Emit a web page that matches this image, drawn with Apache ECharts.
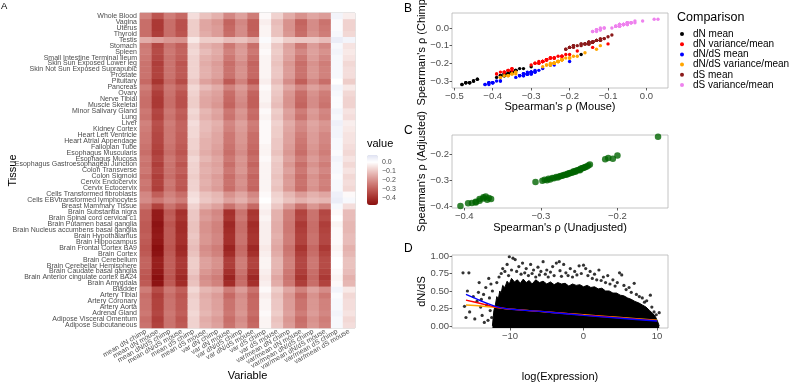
<!DOCTYPE html>
<html><head><meta charset="utf-8">
<script src="https://cdn.jsdelivr.net/npm/echarts@6/dist/echarts.min.js"></script>
<style>html,body{margin:0;padding:0;background:#fff}#c{width:792px;height:384px}</style>
</head><body><div id="c"></div>
<script>
// ---------- Panel A data (tissues listed bottom -> top) ----------
const tissues = ["Adipose Subcutaneous","Adipose Visceral Omentum","Adrenal Gland","Artery Aorta","Artery Coronary","Artery Tibial","Bladder","Brain Amygdala","Brain Anterior cingulate cortex BA24","Brain Caudate basal ganglia","Brain Cerebellar Hemisphere","Brain Cerebellum","Brain Cortex","Brain Frontal Cortex BA9","Brain Hippocampus","Brain Hypothalamus","Brain Nucleus accumbens basal ganglia","Brain Putamen basal ganglia","Brain Spinal cord cervical c1","Brain Substantia nigra","Breast Mammary Tissue","Cells EBVtransformed lymphocytes","Cells Transformed fibroblasts","Cervix Ectocervix","Cervix Endocervix","Colon Sigmoid","Colon Transverse","Esophagus Gastroesophageal Junction","Esophagus Mucosa","Esophagus Muscularis","Fallopian Tube","Heart Atrial Appendage","Heart Left Ventricle","Kidney Cortex","Liver","Lung","Minor Salivary Gland","Muscle Skeletal","Nerve Tibial","Ovary","Pancreas","Pituitary","Prostate","Skin Not Sun Exposed Suprapubic","Skin Sun Exposed Lower leg","Small Intestine Terminal Ileum","Spleen","Stomach","Testis","Thyroid","Uterus","Vagina","Whole Blood"];
const variables = ["mean dN chimp","mean dN mouse","mean dN/dS chimp","mean dN/dS mouse","mean dS chimp","mean dS mouse","var dN chimp","var dN mouse","var dN/dS chimp","var dN/dS mouse","var dS chimp","var dS mouse","var/mean dN chimp","var/mean dN mouse","var/mean dN/dS chimp","var/mean dN/dS mouse","var/mean dS chimp","var/mean dS mouse"];

const meanDNChimp = [-0.26,-0.27,-0.25,-0.26,-0.26,-0.27,-0.24,-0.31,-0.32,-0.31,-0.29,-0.29,-0.31,-0.32,-0.31,-0.30,-0.31,-0.31,-0.30,-0.30,-0.26,-0.21,-0.22,-0.26,-0.25,-0.27,-0.25,-0.26,-0.25,-0.27,-0.26,-0.25,-0.25,-0.24,-0.23,-0.26,-0.25,-0.27,-0.27,-0.26,-0.24,-0.28,-0.26,-0.26,-0.26,-0.25,-0.24,-0.25,-0.15,-0.27,-0.27,-0.27,-0.23];
const meanDNMouse = [-0.36,-0.37,-0.35,-0.36,-0.36,-0.37,-0.34,-0.47,-0.48,-0.46,-0.44,-0.44,-0.47,-0.48,-0.46,-0.45,-0.46,-0.47,-0.45,-0.45,-0.36,-0.25,-0.30,-0.37,-0.36,-0.37,-0.35,-0.37,-0.35,-0.37,-0.36,-0.35,-0.35,-0.34,-0.33,-0.36,-0.35,-0.38,-0.38,-0.37,-0.34,-0.39,-0.36,-0.36,-0.37,-0.35,-0.34,-0.35,-0.17,-0.37,-0.38,-0.38,-0.32];
const meanDNdSChimp = [-0.26,-0.26,-0.25,-0.26,-0.26,-0.27,-0.25,-0.31,-0.32,-0.31,-0.30,-0.30,-0.31,-0.32,-0.31,-0.31,-0.31,-0.32,-0.30,-0.31,-0.26,-0.21,-0.23,-0.26,-0.25,-0.27,-0.26,-0.26,-0.25,-0.27,-0.26,-0.25,-0.25,-0.25,-0.24,-0.26,-0.25,-0.27,-0.27,-0.26,-0.25,-0.28,-0.26,-0.26,-0.26,-0.26,-0.25,-0.26,-0.19,-0.27,-0.27,-0.27,-0.24];
const meanDNdSMouse = [-0.31,-0.32,-0.30,-0.31,-0.31,-0.32,-0.30,-0.41,-0.42,-0.40,-0.38,-0.38,-0.41,-0.42,-0.40,-0.40,-0.41,-0.41,-0.39,-0.40,-0.31,-0.24,-0.27,-0.32,-0.31,-0.32,-0.30,-0.32,-0.30,-0.32,-0.31,-0.30,-0.30,-0.29,-0.29,-0.31,-0.30,-0.33,-0.33,-0.32,-0.29,-0.34,-0.31,-0.31,-0.32,-0.30,-0.29,-0.30,-0.20,-0.32,-0.33,-0.33,-0.28];
const meanDSChimp = [-0.08,-0.08,-0.07,-0.08,-0.08,-0.09,-0.07,-0.11,-0.12,-0.10,-0.09,-0.09,-0.11,-0.12,-0.11,-0.10,-0.11,-0.11,-0.10,-0.10,-0.08,-0.05,-0.06,-0.08,-0.08,-0.09,-0.08,-0.08,-0.07,-0.09,-0.08,-0.08,-0.07,-0.07,-0.06,-0.08,-0.07,-0.09,-0.09,-0.08,-0.07,-0.10,-0.08,-0.08,-0.08,-0.08,-0.07,-0.08,-0.04,-0.09,-0.09,-0.09,-0.06];
const meanDSMouse = [-0.14,-0.15,-0.13,-0.14,-0.14,-0.15,-0.13,-0.20,-0.21,-0.19,-0.17,-0.17,-0.20,-0.21,-0.19,-0.19,-0.20,-0.20,-0.18,-0.19,-0.14,-0.10,-0.11,-0.15,-0.14,-0.15,-0.14,-0.15,-0.13,-0.15,-0.14,-0.14,-0.13,-0.12,-0.12,-0.14,-0.13,-0.16,-0.16,-0.15,-0.12,-0.17,-0.14,-0.14,-0.15,-0.14,-0.12,-0.14,-0.09,-0.15,-0.16,-0.16,-0.11];
const varDNChimp = [-0.17,-0.18,-0.16,-0.17,-0.17,-0.18,-0.15,-0.23,-0.24,-0.22,-0.20,-0.20,-0.23,-0.24,-0.22,-0.22,-0.23,-0.23,-0.21,-0.22,-0.17,-0.12,-0.13,-0.18,-0.17,-0.18,-0.16,-0.17,-0.16,-0.18,-0.17,-0.16,-0.16,-0.15,-0.14,-0.17,-0.16,-0.19,-0.18,-0.17,-0.15,-0.20,-0.17,-0.17,-0.18,-0.16,-0.15,-0.16,-0.09,-0.18,-0.18,-0.19,-0.14];
const varDNMouse = [-0.26,-0.27,-0.25,-0.26,-0.26,-0.28,-0.24,-0.41,-0.43,-0.40,-0.37,-0.37,-0.41,-0.43,-0.40,-0.40,-0.41,-0.42,-0.39,-0.40,-0.26,-0.17,-0.20,-0.27,-0.26,-0.27,-0.25,-0.27,-0.25,-0.27,-0.26,-0.25,-0.25,-0.23,-0.22,-0.26,-0.25,-0.29,-0.28,-0.27,-0.23,-0.31,-0.26,-0.26,-0.27,-0.25,-0.23,-0.25,-0.12,-0.27,-0.28,-0.29,-0.22];
const varDNdSChimp = [-0.20,-0.21,-0.19,-0.20,-0.20,-0.21,-0.18,-0.27,-0.28,-0.26,-0.24,-0.24,-0.27,-0.28,-0.26,-0.26,-0.27,-0.27,-0.25,-0.26,-0.20,-0.14,-0.16,-0.21,-0.20,-0.21,-0.19,-0.20,-0.19,-0.21,-0.20,-0.19,-0.19,-0.18,-0.17,-0.20,-0.19,-0.22,-0.21,-0.20,-0.18,-0.23,-0.20,-0.20,-0.21,-0.19,-0.18,-0.19,-0.11,-0.21,-0.21,-0.22,-0.17];
const varDNdSMouse = [-0.28,-0.29,-0.27,-0.28,-0.28,-0.29,-0.26,-0.40,-0.42,-0.39,-0.36,-0.36,-0.40,-0.42,-0.39,-0.39,-0.40,-0.41,-0.38,-0.39,-0.28,-0.19,-0.22,-0.29,-0.28,-0.29,-0.27,-0.29,-0.27,-0.29,-0.28,-0.27,-0.27,-0.25,-0.24,-0.28,-0.27,-0.30,-0.30,-0.29,-0.25,-0.32,-0.28,-0.28,-0.29,-0.27,-0.25,-0.27,-0.14,-0.29,-0.30,-0.30,-0.24];
const varDSChimp = [-0.02,-0.02,-0.01,-0.02,-0.02,-0.03,-0.01,-0.03,-0.04,-0.03,-0.02,-0.02,-0.03,-0.04,-0.03,-0.03,-0.03,-0.03,-0.02,-0.03,-0.02,0.00,-0.01,-0.02,-0.02,-0.02,-0.02,-0.02,-0.01,-0.02,-0.02,-0.01,-0.01,-0.01,-0.01,-0.02,-0.01,-0.03,-0.02,-0.02,-0.01,-0.03,-0.02,-0.02,-0.02,-0.02,-0.01,-0.02,0.01,-0.02,-0.02,-0.03,-0.01];
const varDSMouse = [-0.10,-0.11,-0.09,-0.10,-0.10,-0.11,-0.09,-0.15,-0.16,-0.14,-0.13,-0.13,-0.15,-0.16,-0.15,-0.14,-0.15,-0.15,-0.14,-0.14,-0.10,-0.07,-0.08,-0.11,-0.10,-0.11,-0.10,-0.10,-0.09,-0.11,-0.10,-0.10,-0.09,-0.09,-0.08,-0.10,-0.09,-0.12,-0.11,-0.10,-0.09,-0.12,-0.10,-0.10,-0.11,-0.10,-0.09,-0.10,-0.05,-0.11,-0.11,-0.12,-0.08];
const vmDNChimp = [-0.18,-0.19,-0.17,-0.18,-0.18,-0.19,-0.16,-0.25,-0.26,-0.25,-0.23,-0.23,-0.25,-0.26,-0.24,-0.24,-0.25,-0.25,-0.24,-0.24,-0.18,-0.11,-0.13,-0.19,-0.18,-0.19,-0.17,-0.19,-0.17,-0.19,-0.18,-0.17,-0.17,-0.16,-0.15,-0.18,-0.17,-0.20,-0.20,-0.19,-0.16,-0.21,-0.18,-0.18,-0.19,-0.17,-0.16,-0.17,-0.09,-0.19,-0.20,-0.20,-0.15];
const vmDNMouse = [-0.26,-0.27,-0.24,-0.26,-0.26,-0.28,-0.23,-0.37,-0.39,-0.37,-0.35,-0.35,-0.37,-0.39,-0.36,-0.36,-0.37,-0.38,-0.35,-0.36,-0.26,-0.14,-0.18,-0.27,-0.26,-0.27,-0.25,-0.27,-0.24,-0.27,-0.26,-0.25,-0.24,-0.22,-0.21,-0.26,-0.24,-0.29,-0.28,-0.27,-0.22,-0.30,-0.26,-0.26,-0.27,-0.25,-0.22,-0.25,-0.10,-0.27,-0.28,-0.29,-0.20];
const vmDNdSChimp = [-0.19,-0.20,-0.18,-0.19,-0.19,-0.20,-0.17,-0.27,-0.28,-0.27,-0.25,-0.25,-0.27,-0.28,-0.26,-0.26,-0.27,-0.27,-0.26,-0.26,-0.19,-0.12,-0.14,-0.20,-0.19,-0.20,-0.18,-0.20,-0.18,-0.20,-0.19,-0.18,-0.18,-0.17,-0.16,-0.19,-0.18,-0.21,-0.21,-0.20,-0.17,-0.22,-0.19,-0.19,-0.20,-0.18,-0.17,-0.18,-0.10,-0.20,-0.21,-0.21,-0.16];
const vmDNdSMouse = [-0.23,-0.24,-0.22,-0.23,-0.23,-0.25,-0.21,-0.36,-0.38,-0.36,-0.34,-0.34,-0.36,-0.38,-0.35,-0.35,-0.36,-0.37,-0.34,-0.35,-0.23,-0.13,-0.16,-0.24,-0.23,-0.24,-0.22,-0.24,-0.22,-0.24,-0.23,-0.22,-0.22,-0.20,-0.19,-0.23,-0.22,-0.26,-0.25,-0.24,-0.20,-0.27,-0.23,-0.23,-0.24,-0.22,-0.20,-0.22,-0.12,-0.24,-0.25,-0.26,-0.18];
const vmDSChimp = [0.02,0.02,0.03,0.02,0.02,0.01,0.03,-0.01,-0.02,-0.01,0.00,0.00,-0.01,-0.02,-0.01,-0.01,-0.01,-0.02,0.00,-0.01,0.02,0.05,0.04,0.02,0.02,0.01,0.02,0.02,0.03,0.01,0.02,0.02,0.03,0.03,0.04,0.02,0.03,0.01,0.01,0.02,0.03,0.00,0.02,0.02,0.02,0.02,0.03,0.02,0.05,0.02,0.01,0.01,0.03];
const vmDSMouse = [-0.06,-0.07,-0.05,-0.06,-0.06,-0.07,-0.04,-0.13,-0.14,-0.12,-0.11,-0.11,-0.13,-0.14,-0.12,-0.12,-0.13,-0.13,-0.12,-0.12,-0.06,0.02,-0.01,-0.07,-0.06,-0.07,-0.05,-0.07,-0.05,-0.07,-0.06,-0.05,-0.05,-0.04,-0.03,-0.06,-0.05,-0.08,-0.08,-0.07,-0.04,-0.09,-0.06,-0.06,-0.07,-0.05,-0.04,-0.05,0.03,-0.07,-0.08,-0.08,-0.03];
const columns = [meanDNChimp,meanDNMouse,meanDNdSChimp,meanDNdSMouse,meanDSChimp,meanDSMouse,varDNChimp,varDNMouse,varDNdSChimp,varDNdSMouse,varDSChimp,varDSMouse,vmDNChimp,vmDNMouse,vmDNdSChimp,vmDNdSMouse,vmDSChimp,vmDSMouse];
const colorbarTicks = [-0.4,-0.3,-0.2,-0.1,0.0];

// ---------- Panel B: comparisons (mouse column, chimp column) ----------
const comparisons = [
  {name:'dN mean', x: meanDNMouse, y: meanDNChimp, color:'#000000'},
  {name:'dN variance/mean', x: vmDNMouse, y: vmDNChimp, color:'#ff0000'},
  {name:'dN/dS mean', x: meanDNdSMouse, y: meanDNdSChimp, color:'#0000ff'},
  {name:'dN/dS variance/mean', x: vmDNdSMouse, y: vmDNdSChimp, color:'#ffa500'},
  {name:'dS mean', x: meanDSMouse, y: meanDSChimp, color:'#8b1a1a'},
  {name:'dS variance/mean', x: vmDSMouse, y: vmDSChimp, color:'#ee82ee'}
];
const bTicksX = [-0.5,-0.4,-0.3,-0.2,-0.1,0.0];
const bTicksY = [-0.3,-0.2,-0.1,0.0];

// ---------- Panel C ----------
const cUnadjusted = [-0.405,-0.395,-0.39,-0.385,-0.385,-0.38,-0.38,-0.375,-0.375,-0.372,-0.37,-0.368,-0.365,
 -0.307,-0.298,-0.295,-0.292,-0.29,-0.288,-0.285,-0.283,-0.28,-0.278,-0.276,-0.274,-0.272,-0.27,-0.268,-0.266,-0.265,-0.263,-0.262,-0.26,-0.258,-0.257,-0.255,-0.254,-0.252,-0.25,-0.249,-0.248,-0.246,-0.245,-0.243,-0.242,-0.24,-0.238,-0.236,
 -0.216,-0.212,-0.206,-0.2,-0.147];
const cAdjusted = [-0.398,-0.388,-0.387,-0.385,-0.382,-0.378,-0.372,-0.37,-0.365,-0.362,-0.375,-0.368,-0.372,
 -0.307,-0.302,-0.298,-0.3,-0.295,-0.297,-0.292,-0.293,-0.288,-0.29,-0.286,-0.284,-0.283,-0.28,-0.279,-0.278,-0.276,-0.275,-0.273,-0.272,-0.27,-0.266,-0.268,-0.264,-0.262,-0.26,-0.262,-0.257,-0.255,-0.254,-0.252,-0.25,-0.248,-0.244,-0.24,
 -0.22,-0.216,-0.218,-0.206,-0.135];
const cTicksX = [-0.4,-0.3,-0.2];
const cTicksY = [-0.4,-0.3,-0.2];

// ---------- Panel D ----------
const dDenseX = [-12.4,-12.2,-12.0,-11.8,-11.6,-11.4,-11.2,-11.0,-10.7,-10.4,-10.1,-9.8,-9.4,-9.0,-8.6,-8.2,-7.8,-7.4,-7.0,-6.5,-6.0,-5.5,-5.0,-4.5,-4.0,-3.5,-3.0,-2.5,-2.0,-1.5,-1.0,-0.5,0,0.5,1,1.5,2,2.5,3,3.5,4,4.5,5,5.5,6,6.5,7,7.5,8,8.5,9,9.4,9.8,10.1,10.3];
const dDenseTop = [0,0.22,0.3,0.42,0.38,0.5,0.47,0.58,0.55,0.64,0.6,0.68,0.63,0.66,0.61,0.67,0.62,0.65,0.6,0.66,0.62,0.64,0.6,0.63,0.59,0.62,0.6,0.61,0.57,0.6,0.58,0.59,0.56,0.58,0.55,0.56,0.53,0.54,0.5,0.5,0.47,0.47,0.44,0.43,0.4,0.38,0.35,0.33,0.3,0.27,0.22,0.18,0.13,0.06,0];
const dSparse = [[-16.4,0.76],[-15.6,0.76],[-16.2,0.28],[-15.8,0.5],[-15.5,0.2],[-15.0,0.42],[-14.8,0.1],[-14.5,0.35],[-14.2,0.62],[-14.0,0.27],[-13.8,0.15],[-13.6,0.45],[-13.3,0.55],[-13.2,0.3],[-13.0,0.08],[-12.8,0.4],[-12.7,0.22],[-12.6,0.6],[-12.5,0.12],[-12.4,0.5],[-13.5,0.05],[-14.3,0.48],[-16.0,0.12],[-12.9,0.68],[-13.9,0.38],
 [-11.8,0.62],[-11.5,0.7],[-11.2,0.75],[-11,0.82],[-10.7,0.78],[-10.4,0.88],[-10.2,0.72],[-10.1,0.99],[-9.8,0.8],[-9.6,0.97],[-9.3,0.95],[-9.1,0.78],[-8.8,0.85],[-8.5,0.74],[-8.3,0.9],[-8,0.76],[-7.8,0.82],[-7.5,0.72],[-7.2,0.88],[-7,0.75],[-6.8,0.8],[-6.5,0.7],[-6.2,0.84],[-6,0.73],[-5.8,0.78],[-5.5,0.92],[-5.2,0.74],[-5,0.8],[-4.8,0.7],[-4.5,0.77],[-4.2,0.85],[-4,0.72],[-3.7,0.9],[-3.3,0.92],[-3.2,0.79],[-3,0.71],[-2.7,0.88],[-2.4,0.76],[-2.1,0.72],[-1.8,0.82],[-1.5,0.7],[-1.2,0.78],[-0.9,0.73],[-0.6,0.86],[-0.3,0.75],[0,0.87],[0.3,0.82],[0.6,0.72],[0.9,0.78],[1.2,0.68],[1.5,0.74],[1.8,0.66],[2.1,0.8],[2.4,0.65],[2.7,0.7],[3,0.62],[3.3,0.72],[3.6,0.6],[4,0.66],[4.3,0.57],[4.6,0.62],[4.9,0.76],[5.2,0.73],[5.5,0.58],[5.8,0.52],[6.2,0.55],[6.5,0.48],[6.9,0.61],[7.2,0.45],[7.6,0.42],[8,0.4],[8.3,0.34],[8.6,0.36],[9.1,0.44],[9.3,0.27],[9.6,0.2],[9.9,0.16],[10.3,0.19]];
const dLineX = [-16,-14,-12,-10,-5,0,5,10];
const dBlue = [0.45,0.36,0.28,0.24,0.2,0.15,0.11,0.07];
const dRed = [0.37,0.32,0.27,0.24,0.2,0.155,0.115,0.075];
const dOrange = [0.30,0.285,0.265,0.24,0.2,0.16,0.12,0.08];
const dTicksX = [-10,0,10];
const dTicksY = [0,0.25,0.5,0.75,1];

// ---------- build ----------
const FONT = 'Liberation Sans, Arial, sans-serif';
const fmt = d => v => (Math.abs(v) < 1e-9 ? (0).toFixed(d) : (v < 0 ? '\u2212' : '') + Math.abs(v).toFixed(d));
const hmData = [];
columns.forEach((col, j) => col.forEach((v, i) => hmData.push([j, i, v])));

const tickStyle = {lineStyle:{color:'#333', width:0.8}, length:2.5};
const lab = (vals, d) => ({customValues: vals, formatter: fmt(d), fontSize: 9.5, color: '#4d4d4d', margin: 3});
function valAxis(grid, min, max, ticks, d, name, gap) {
  return {gridIndex: grid, type: 'value', min: min, max: max, scale: true,
    axisLine: {show: false, onZero: false}, splitLine: {show: false},
    axisTick: Object.assign({customValues: ticks}, tickStyle),
    axisLabel: lab(ticks, d),
    name: name, nameLocation: 'middle', nameGap: gap, nameMoveOverlap: false,
    nameTextStyle: {fontSize: 11, color: '#000', fontFamily: FONT}};
}
const border = {show: true, borderColor: '#b5b5b5', borderWidth: 0.8, containLabel: false, outerBoundsMode: 'none'};

const series = [{
  type: 'heatmap', xAxisIndex: 0, yAxisIndex: 0, data: hmData, progressive: 0,
  emphasis: {disabled: true}, silent: true
}];
comparisons.forEach(c => series.push({
  type: 'scatter', name: c.name, xAxisIndex: 1, yAxisIndex: 1, symbolSize: 3.4,
  itemStyle: {color: c.color, opacity: 1}, silent: true,
  data: c.x.map((v, i) => [v, c.y[i]])
}));
series.push({type: 'scatter', xAxisIndex: 2, yAxisIndex: 2, symbolSize: 6.5, silent: true,
  itemStyle: {color: '#006400'}, data: cUnadjusted.map((v, i) => [v, cAdjusted[i]])});
series.push({type: 'line', xAxisIndex: 3, yAxisIndex: 3, symbol: 'none', silent: true,
  lineStyle: {color: '#000', width: 1}, areaStyle: {color: '#000', opacity: 1, origin: 'start'},
  data: dDenseX.map((v, i) => [v, dDenseTop[i]])});
series.push({type: 'scatter', xAxisIndex: 3, yAxisIndex: 3, symbolSize: 3.2, silent: true,
  itemStyle: {color: '#000'}, data: dSparse});
[['#ffa500', dOrange], ['#ff0000', dRed], ['#0000ff', dBlue]].forEach(([col, ys]) => series.push({
  type: 'line', xAxisIndex: 3, yAxisIndex: 3, symbol: 'none', silent: true, smooth: 0.3,
  lineStyle: {color: col, width: 1.4}, data: dLineX.map((v, i) => [v, ys[i]])}));
series.push({type: 'scatter', xAxisIndex: 4, yAxisIndex: 4, data: []});

const chart = echarts.init(document.getElementById('c'), null, {renderer: 'canvas'});
chart.setOption({
  animation: false,
  textStyle: {fontFamily: FONT},
  title: [
    {text: 'A', left: 1, top: 1, padding: 0, textStyle: {fontSize: 9.5, fontWeight: 'normal', color: '#000'}},
    {text: 'B', left: 404, top: 3, padding: 0, textStyle: {fontSize: 12, fontWeight: 'normal', color: '#000'}},
    {text: 'C', left: 404, top: 125, padding: 0, textStyle: {fontSize: 12, fontWeight: 'normal', color: '#000'}},
    {text: 'D', left: 404, top: 243, padding: 0, textStyle: {fontSize: 12, fontWeight: 'normal', color: '#000'}},
    {text: 'value', left: 367, top: 138, padding: 0, textStyle: {fontSize: 11, fontWeight: 'normal', color: '#000'}},
    {text: 'Comparison', left: 677, top: 11, padding: 0, textStyle: {fontSize: 12.5, fontWeight: 'normal', color: '#000'}}
  ],
  legend: {orient: 'vertical', left: 680, top: 29, padding: 0, itemWidth: 4, itemHeight: 4, itemGap: 0.2,
    icon: 'circle', selectedMode: false,
    textStyle: {fontSize: 10, lineHeight: 10, color: '#000', padding: [0, 0, 0, 4]},
    data: comparisons.map(c => c.name)},
  visualMap: {type: 'continuous', min: -0.48, max: 0.08, seriesIndex: 0, show: true, calculable: false,
    hoverLink: false, left: 367, top: 155, itemWidth: 11, itemHeight: 50, padding: 0,
    inRange: {color: ['#8a0f0f', '#a5302c', '#bc5550', '#cf7d78', '#e0a6a2', '#f0d2cf', '#ffffff', '#dfe2f2']}},
  grid: [
    Object.assign({left: 140, top: 13, width: 215, height: 315}, border),
    Object.assign({left: 452, top: 13, width: 216, height: 75}, border),
    Object.assign({left: 452, top: 135, width: 216, height: 73}, border),
    Object.assign({left: 452, top: 255, width: 216, height: 73}, border),
    {left: 367, top: 155, width: 11, height: 50, show: false, containLabel: false, outerBoundsMode: 'none'}
  ],
  xAxis: [
    {gridIndex: 0, type: 'category', data: variables, axisLine: {show: false, onZero: false}, splitLine: {show: false},
      axisTick: Object.assign({alignWithLabel: true, interval: 0}, tickStyle),
      axisLabel: {interval: 0, rotate: 30, fontSize: 7, color: '#4d4d4d', margin: 3},
      name: 'Variable', nameLocation: 'middle', nameGap: 42, nameMoveOverlap: false,
      nameTextStyle: {fontSize: 11, color: '#000'}},
    valAxis(1, -0.506, 0.056, bTicksX, 1, "Spearman's \u03c1 (Mouse)", 13),
    valAxis(2, -0.416, -0.134, cTicksX, 1, "Spearman's \u03c1 (Unadjusted)", 14),
    valAxis(3, -17.9, 11.5, dTicksX, 0, 'log(Expression)', 43),
    {gridIndex: 4, type: 'value', show: false, min: 0, max: 1}
  ],
  yAxis: [
    {gridIndex: 0, type: 'category', data: tissues, axisLine: {show: false, onZero: false}, splitLine: {show: false},
      axisTick: Object.assign({alignWithLabel: true, interval: 0}, tickStyle),
      axisLabel: {interval: 0, fontSize: 7, color: '#4d4d4d', margin: 3},
      name: 'Tissue', nameLocation: 'middle', nameGap: 122, nameMoveOverlap: false,
      nameTextStyle: {fontSize: 11, color: '#000'}},
    valAxis(1, -0.34, 0.085, bTicksY, 1, "Spearman's \u03c1 (Chimp)", 25),
    valAxis(2, -0.406, -0.128, cTicksY, 1, "Spearman's \u03c1 (Adjusted)", 25),
    valAxis(3, -0.03, 1.015, dTicksY, 2, 'dN/dS', 25),
    {gridIndex: 4, type: 'value', min: -0.48, max: 0.08, position: 'right',
      axisLine: {show: false, onZero: false}, axisTick: {show: false}, splitLine: {show: false},
      axisLabel: {customValues: colorbarTicks, formatter: fmt(1), fontSize: 7, color: '#4d4d4d', margin: 4}}
  ],
  series: series
});
</script></body></html>
